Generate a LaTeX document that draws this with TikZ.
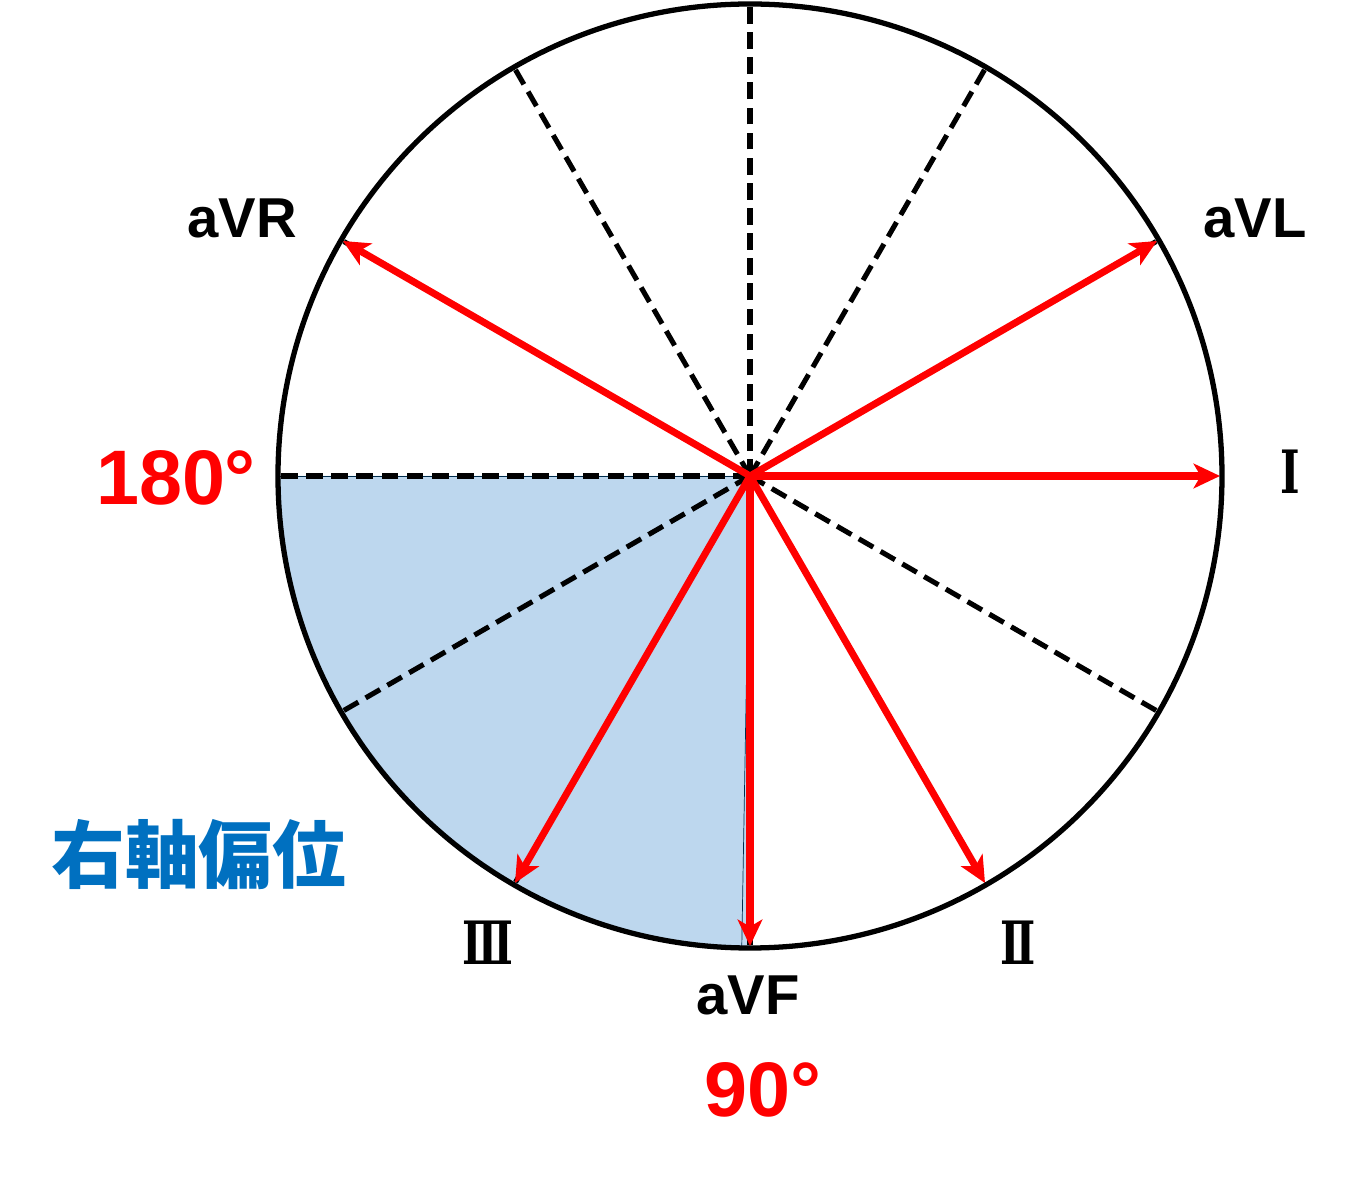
\documentclass[tikz,border=0pt]{standalone}
\usepackage{fontspec}
\setmainfont{Liberation Sans}
\newfontfamily\cjk{Noto Sans CJK JP}
\newfontfamily\romanfont{DejaVu Serif}
\usepackage{tikz}
\usetikzlibrary{ arrows.meta, calc, positioning }
\definecolor{leadred}{RGB}{255,0,0}
\definecolor{axisblue}{RGB}{0,112,192}
\definecolor{rightdev}{RGB}{189,215,238}
\tikzset{
>={Stealth[length=15pt,width=14pt,inset=4pt]}, % arrow heads of the leads
every node/.style={inner sep=1pt, font=\bfseries},
lead/.style={->, leadred, line width=4pt},
guide/.style={line width=2.9pt, dash pattern=on 9.5pt off 4.8pt},
leadlabel/.style={font=\fontsize{32}{32}\selectfont\bfseries},
roman/.style={font=\romanfont\fontsize{34}{34}\selectfont\bfseries},
angle/.style={leadred, font=\fontsize{44}{44}\selectfont\bfseries},
}

\begin{document}
\begin{tikzpicture}[x=0.02cm, y=0.02cm]
  \useasboundingbox (-750,-703) rectangle (606,476);
  \coordinate (O) at (0,0);
  \def\R{472}
  % shaded region: right axis deviation
  \fill[rightdev] (O) -- (180:\R) arc (180:270:\R) -- cycle;
  \draw[axisblue!40!black, thin] (O) -- (180:\R);
  \draw[axisblue!40!black, thin] (O) -- (269:\R);

  % dashed guides every 30 degrees
  \foreach \a in {30,60,90,120,150,180,210,240,270,330}
    \draw[guide] (O) -- (\a:\R);

  % lead axes
  \coordinate (pI)   at (0:470);
  \coordinate (pII)  at (-60:470);
  \coordinate (pIII) at (-120:470);
  \coordinate (paVR) at (150:470);
  \coordinate (paVL) at (30:470);
  \coordinate (paVF) at (-90:470);
  \foreach \p in {pI,pII,pIII,paVR,paVL,paVF}
    \draw[lead] (O) -- (\p);

  \draw[line width=3pt] (O) circle (\R);

  % labels
  \node[leadlabel] (aVR) at (-508,258) {aVR};
  \node[leadlabel] (aVL) at (505,258) {aVL};
  \node[leadlabel] (aVF) at (-2,-519) {aVF};
  \node[roman] (I)   at (540,4) {\scalebox{0.7}[1]{Ⅰ}};
  \node[roman] (II)  at (268,-467) {\scalebox{0.7}[1]{Ⅱ}};
  \node[roman] (III) at (-262,-467) {\scalebox{0.7}[1]{Ⅲ}};
  \node[angle] (deg180) at (-574,-2) {180°};
  \node[angle] (deg90)  at (13,-614) {90°};
  \node[axisblue, font=\cjk\fontsize{42}{42}\selectfont\bfseries] (rad) at (-551,-379) {右軸偏位};
\end{tikzpicture}
\end{document}
